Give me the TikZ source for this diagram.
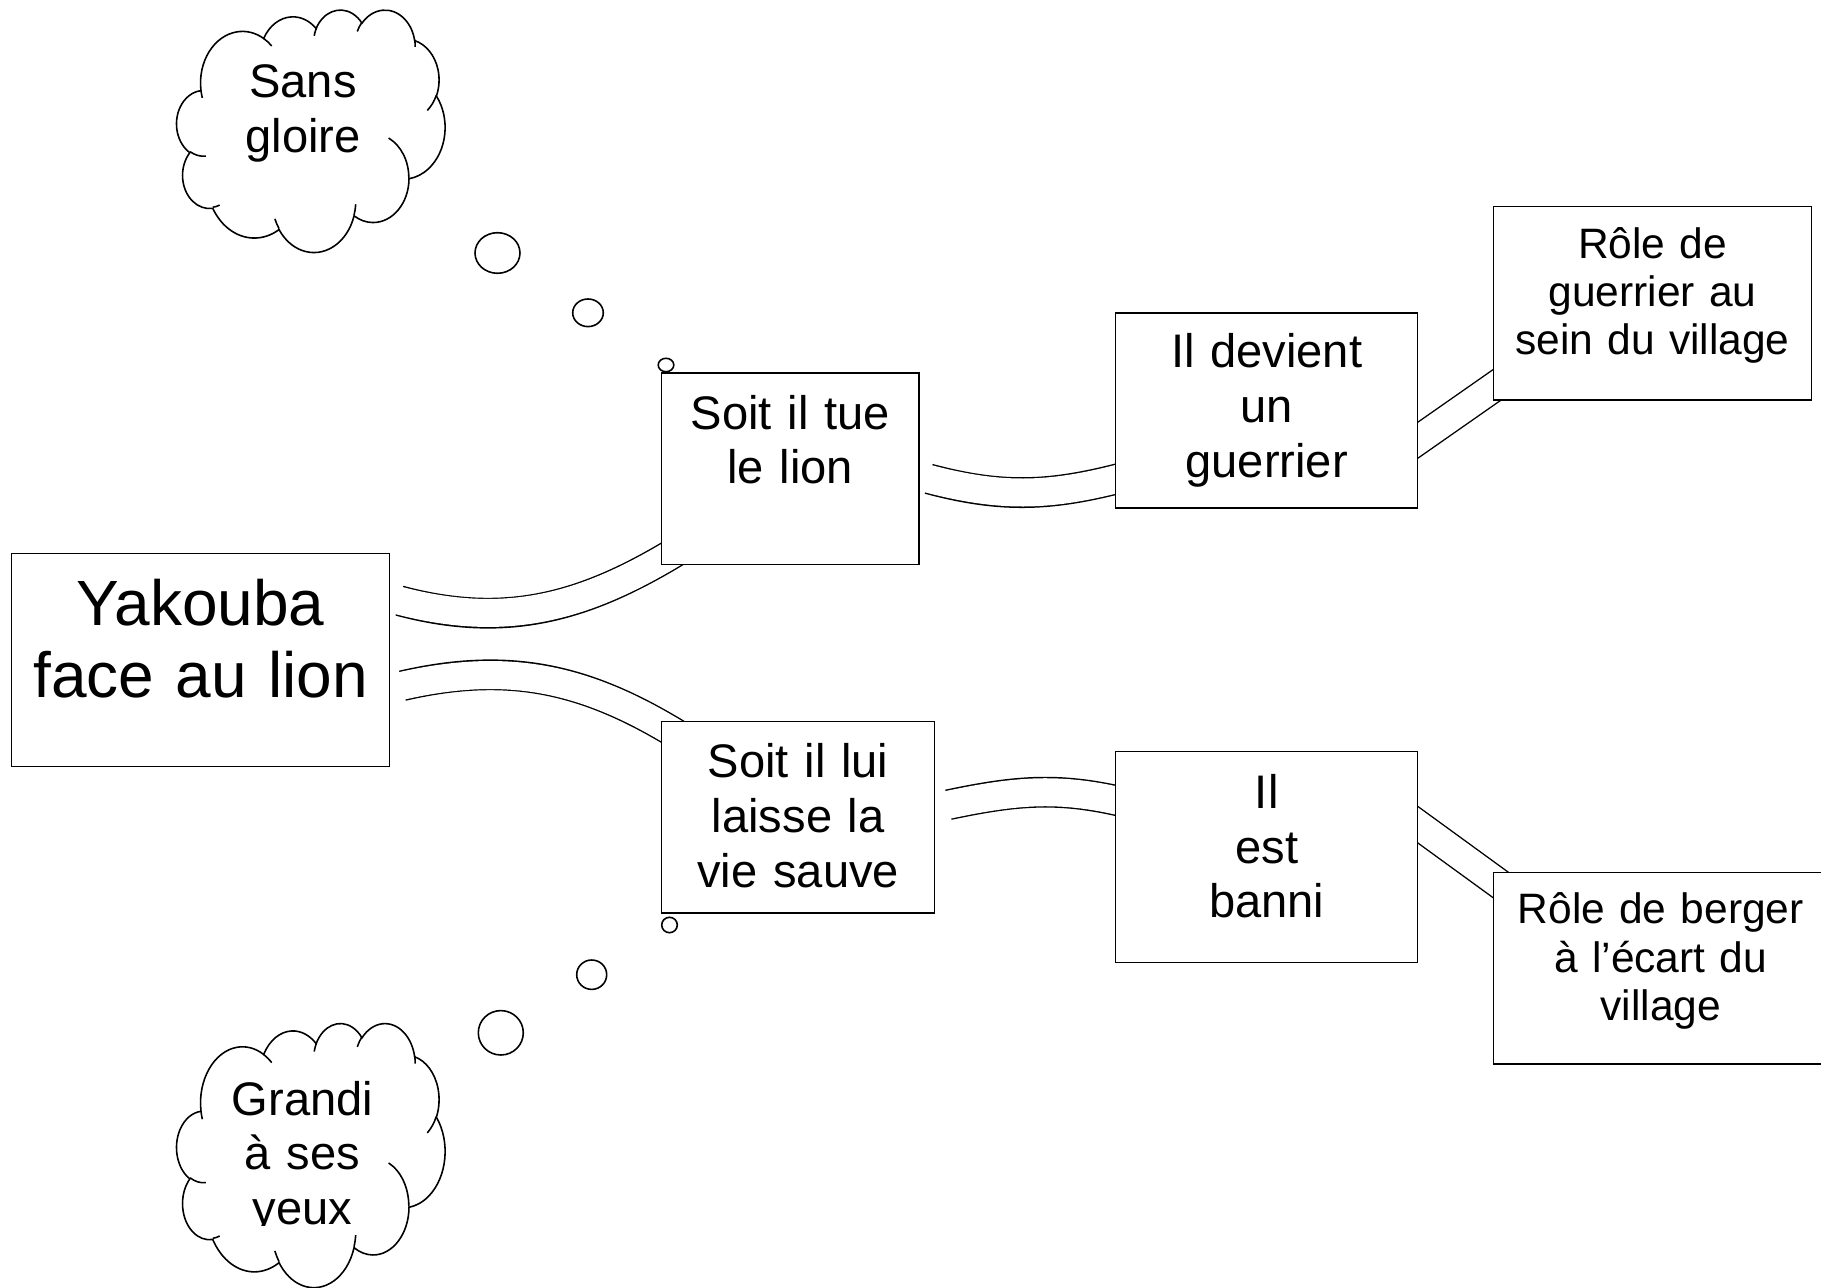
\documentclass[tikz,border=0pt]{standalone}
\usepackage{fontspec}
\setmainfont{Liberation Sans}
\usetikzlibrary{backgrounds}

\newcommand{\yakfont}{\fontsize{18.2}{20.5}\selectfont}
\newcommand{\boxfont}{\fontsize{13.4}{15.6}\selectfont}
\newcommand{\rolefont}{\fontsize{12.1}{13.7}\selectfont}

\tikzset{
  box/.style={draw, fill=white, line width=0.4pt, inner sep=0pt, align=center, anchor=north west},
  link/.style={line width=0.28cm+0.8pt, postaction={draw=white, line width=0.28cm, shorten <=-0.8pt}},
  bubble/.style={line width=0.45pt},
  cloudtext/.style={inner sep=0pt, align=center, text width=2.4cm, anchor=base, font=\boxfont},
  thoughtcloud/.pic={
    % outline
    \draw[bubble] (3.9,14.37)
      arc[start angle=-187.75, delta angle=128.12, x radius=6.753, y radius=9.19]
      arc[start angle=-152.02, delta angle=106.57, x radius=5.333, y radius=7.267]
      arc[start angle=-153.49, delta angle=116.15, x radius=4.365, y radius=5.945]
      arc[start angle=-139.72, delta angle=129.51, x radius=4.857, y radius=6.595]
      arc[start angle=-74.77, delta angle=97.98, x radius=5.333, y radius=7.273]
      arc[start angle=-37.54, delta angle=119.4, x radius=6.775, y radius=9.22]
      arc[start angle=0.46, delta angle=121.52, x radius=5.785, y radius=7.867]
      arc[start angle=16.84, delta angle=129.39, x radius=6.752, y radius=9.215]
      arc[start angle=58.99, delta angle=91.18, x radius=7.72, y radius=10.543]
      arc[start angle=-276.7, delta angle=139.81, x radius=4.36, y radius=5.918]
      arc[start angle=-239.62, delta angle=143.73, x radius=4.345, y radius=5.945]
      -- cycle;
    % inner folds
    \draw[bubble]
      (4.693,26.177) arc[start angle=85.55, delta angle=34.83, x radius=4.345, y radius=5.945]
      (6.928,34.899) arc[start angle=68.24, delta angle=15.06, x radius=4.36, y radius=5.918]
      (16.478,39.09) arc[start angle=146.23, delta angle=12.25, x radius=6.752, y radius=9.215]
      (28.827,34.751) arc[start angle=4.74, delta angle=12.1, x radius=6.752, y radius=9.215]
      (34.129,22.954) arc[start angle=-64, delta angle=64.46, x radius=5.785, y radius=7.867]
      (41.798,15.354) arc[start angle=23.21, delta angle=26.46, x radius=5.333, y radius=7.273]
      (38.324,5.426) arc[start angle=-10.21, delta angle=11.03, x radius=4.857, y radius=6.595]
      (29.078,3.952) arc[start angle=-156.28, delta angle=16.56, x radius=4.857, y radius=6.595]
      (22.141,4.72) arc[start angle=-167.73, delta angle=14.24, x radius=4.365, y radius=5.945]
      (14,5.192) arc[start angle=-59.63, delta angle=13.89, x radius=6.753, y radius=9.19]
      (4.127,15.789) arc[start angle=163.19, delta angle=9.06, x radius=6.753, y radius=9.19];
  }
}

\begin{document}
\begin{tikzpicture}
    \useasboundingbox (0,0) rectangle (18.21,-12.88);

    % Boxes
    \node[box, font=\yakfont, text width=3.78cm, text height=0.72cm, text depth=1.41cm] (yak) at (0.11,-5.53) {Yakouba\\face au lion};
    \node[box, font=\boxfont, text width=2.573cm, text height=0.56cm, text depth=1.357cm] (tue) at (6.61,-3.723) {Soit il tue\\le lion};
    \node[box, font=\boxfont, text width=2.73cm, text height=0.565cm, text depth=1.352cm] (lui) at (6.61,-7.207) {Soit il lui\\laisse la\\vie sauve};
    \node[box, font=\boxfont, text width=3.02cm, text height=0.55cm, text depth=1.402cm] (dev) at (11.15,-3.123) {Il devient\\un\\guerrier};
    \node[box, font=\boxfont, text width=3.02cm, text height=0.565cm, text depth=1.545cm] (ban) at (11.15,-7.51) {Il\\est\\banni};
    \node[box, font=\rolefont, text width=3.183cm, text height=0.52cm, text depth=1.416cm] (guer) at (14.927,-2.057) {Rôle de\\guerrier au\\sein du village};
    \node[box, font=\rolefont, text width=3.346cm, text height=0.515cm, text depth=1.401cm] (berg) at (14.927,-8.717) {Rôle de berger\\à l’écart du\\village};

    % Links
    \begin{pgfonlayer}{background}
        \draw[link] ([shift={(0.09,0.595)}]yak.east) to[out=-15, in=212] ([shift={(0.25,0.2)}]tue.south west);
        \draw[link] ([shift={(0.12,-0.255)}]yak.east) to[out=13, in=148] ([shift={(0.23,-0.18)}]lui.north west);
        \draw[link] ([shift={(0.09,-0.1)}]tue.east) to[out=-15, in=195] ([shift={(0.15,-0.65)}]dev.west);
        \draw[link] ([shift={(-0.15,-0.397)}]dev.east) -- ([shift={(0.153,0.235)}]guer.south west);
        \draw[link] ([shift={(0.13,0.125)}]lui.east) to[out=12, in=166] ([shift={(0.15,0.535)}]ban.west);
        \draw[link] ([shift={(-0.15,0.43)}]ban.east) -- ([shift={(0.203,-0.222)}]berg.north west);
    \end{pgfonlayer}

    % Clouds
    \pic[xscale=0.062106, yscale=-0.056111] at (1.767,-0.093) {thoughtcloud};
    \node[cloudtext] (sans) at (3.03,-0.975) {Sans\\gloire};
    \draw[bubble] (4.975,-2.53) ellipse [x radius=0.225, y radius=0.203];
    \draw[bubble] (5.88,-3.128) ellipse [x radius=0.153, y radius=0.138];
    \draw[bubble] (6.66,-3.65) ellipse [x radius=0.078, y radius=0.067];

    \pic[xscale=0.062106, yscale=-0.061111] at (1.767,-10.227) {thoughtcloud};
    \begin{scope}
        \clip (1.5,-10.2) rectangle (4.6,-12.255);
        \node[cloudtext] (grandi) at (3.025,-11.15) {Grandi\\à ses\\yeux};
    \end{scope}
    \draw[bubble] (6.695,-9.25) ellipse [x radius=0.078, y radius=0.077];
    \draw[bubble] (5.917,-9.747) ellipse [x radius=0.15, y radius=0.147];
    \draw[bubble] (5.008,-10.328) ellipse [x radius=0.225, y radius=0.222];
\end{tikzpicture}
\end{document}
